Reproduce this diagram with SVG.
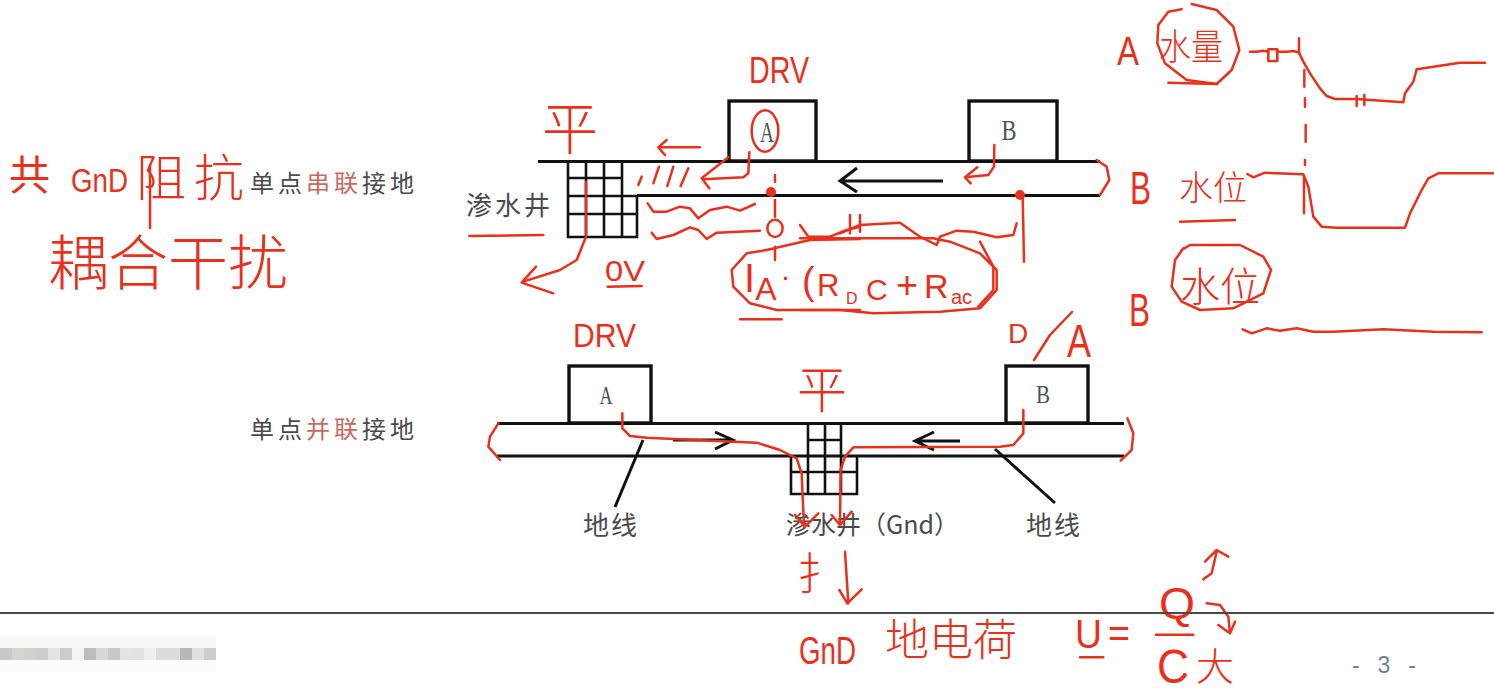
<svg xmlns="http://www.w3.org/2000/svg" width="1494" height="699" viewBox="0 0 1494 699">
<defs><style>
.k{fill:none;stroke:#111;stroke-width:3}
.box{fill:#fff;stroke:#111;stroke-width:3.4}
.g{fill:none;stroke:#111;stroke-width:2.6}
.r{fill:none;stroke:#e8301c;stroke-width:2.5;stroke-linejoin:round;stroke-linecap:round;vector-effect:non-scaling-stroke}
.t{font-family:"Noto Sans CJK SC","Liberation Sans",sans-serif;fill:#4a4a4a}
.s{font-family:"Liberation Serif",serif;fill:#48505c}
.h{font-family:"Noto Sans CJK SC","Liberation Sans",sans-serif;fill:#e8301c}
.l{font-family:"Liberation Sans",sans-serif;fill:#e8301c}
.m{stroke:none}
</style></defs>
<rect width="1494" height="699" fill="#fff"/>

<g id="serial-ground">
<path class="k" d="M538 161.500H1100M637 195.500H1100"/>
<path class="g" d="M568 161V237H637V196M586 161V237M604 161V237M622 161V237M568 178H622M568 196H637M568 214H637"/>
</g>
<g id="node-A-top"><rect class="box" x="729" y="101" width="87" height="60"/><text class="s" x="767" y="142" font-size="29" text-anchor="middle" textLength="14" lengthAdjust="spacingAndGlyphs">A</text></g>
<g id="node-B-top"><rect class="box" x="969" y="101" width="88" height="60"/><text class="s" x="1009" y="140" font-size="29" text-anchor="middle" textLength="15" lengthAdjust="spacingAndGlyphs">B</text></g>

<g id="parallel-ground">
<path class="k" d="M497 423.500H1124M497 456H1124"/>
<path class="g" d="M791 456V494H857V456M808 423V494M825 423V494M841 423V494M808 440H841M791 472H857"/>
</g>
<g id="node-A-bottom"><rect class="box" x="569" y="366" width="82" height="57"/><text class="s" x="606" y="404" font-size="25" text-anchor="middle" textLength="13" lengthAdjust="spacingAndGlyphs">A</text></g>
<g id="node-B-bottom"><rect class="box" x="1006" y="366" width="82" height="57"/><text class="s" x="1043" y="403" font-size="25" text-anchor="middle" textLength="14" lengthAdjust="spacingAndGlyphs">B</text></g>

<g id="connectors">
<path class="k" d="M943 181H840M857 168L840 181L857 192M673 440H733M715 432L733 440L715 449M960 441H915M934 432L915 441L934 450"/>
<path class="k" d="M643 440L615 507M995 449L1055 503"/>
</g>

<g id="labels">
<text class="t" x="250" y="192" font-size="24" letter-spacing="4">单点<tspan fill="#c9685f">串联</tspan>接地</text>
<text class="t" x="250" y="438" font-size="24" letter-spacing="4">单点<tspan fill="#c9685f">并联</tspan>接地</text>
<text class="t" x="466" y="215" font-size="26" letter-spacing="3">渗水井</text>
<text class="t" x="583" y="535" font-size="26" letter-spacing="2">地线</text>
<text class="t" x="1026" y="535" font-size="26" letter-spacing="2">地线</text>
<text class="t" x="786" y="534" font-size="25">渗水井（Gnd）</text>
<text x="1352" y="673" font-size="23" font-family="Liberation Sans,sans-serif" fill="#6f7f90" textLength="64" lengthAdjust="spacing" xml:space="preserve">- 3 -</text>
</g>

<g id="ink-marks">
<path class="r" d="M150 165V228"/>
<g transform="translate(460 40) scale(.33333)">
<ellipse class="r" cx="915" cy="273" rx="40" ry="62"/>
<path class="r" d="M720 322H595M620 300L595 322L615 345"/>
<path class="r" d="M545 410L535 435M597 380L580 430M640 380L622 438M685 385L662 438"/>
<path class="r" d="M868 337L865 400L850 412L730 418M805 352L725 415L748 445"/>
<path class="r" d="M945 405V425M945 480V530M945 620V660"/>
<ellipse class="r" cx="945" cy="565" rx="23" ry="26"/>
<path class="r" d="M563 490L580 515L620 515L660 500L690 505L715 535L750 510L800 500L840 512L885 492"/>
<path class="r" d="M575 578L590 597L640 585L690 562L715 570L740 597L770 578L900 572"/>
<path class="r" d="M1020 555L1045 590L1110 590L1160 570L1200 560"/>
<path class="r" d="M378 425V590L350 660L300 690L190 725M228 680L185 728L280 760"/>
<path class="r" d="M28 588L250 585M443 740L545 738M840 838H965"/>
<path class="r" d="M920 630L860 640L815 690L820 740L870 790L950 810L1200 810"/>
<path class="r" d="M920 630L1050 600L1200 597"/>
</g>
<g transform="translate(840 60) scale(.33333)">
<path class="r" d="M0 520L60 495L180 488L240 530L290 555L300 530L350 512L400 515L470 532L520 525L530 490"/>
<path class="r" d="M30 465V520M60 465V515"/>
<path class="r" d="M-120 535H280L330 545L420 580L470 630L470 690L420 745L300 755L100 760L0 750L-120 750"/>
<path class="r" d="M420 545L460 620L460 690L415 740"/>
<path class="r" d="M548 405L552 605M463 255L462 320L445 345L375 352M412 322L375 352L392 370"/>
<path class="r" d="M770 300L800 320L808 360L780 405"/>
</g>
<circle cx="771" cy="192" r="5" fill="#e8301c"/>
<circle cx="1020" cy="195" r="5" fill="#e8301c"/>
<g transform="translate(480 310) scale(.33333)">
<path class="r" d="M55 340L30 380L25 410L60 450"/>
<path class="r" d="M427 310V355L450 378L500 383L760 395L830 398L900 420L950 445L965 490L972 650M945 615L975 650L1015 610"/>
</g>
<g transform="translate(770 310) scale(.33333)">
<path class="r" d="M1072 325L1090 370L1085 420L1052 452"/>
<path class="r" d="M760 300V370L730 405L690 410L250 412L225 440L212 480L210 640M185 615L210 645L245 605"/>
<path class="r" d="M225 725L235 880M208 840L232 880L275 838"/>
</g>
<g transform="translate(1100 0) scale(.33333)">
<path class="r" d="M245 28L205 35L175 75L172 130L195 190L260 240L350 252L395 210L418 150L400 80L350 30L275 12"/>
<path class="r" d="M205 248L350 252M240 665L405 660"/>
<path class="r" d="M450 155L470 155L490 152L505 155M530 155L560 155L580 153L597 158L610 185L630 220L660 265L680 288L705 297L770 297L910 307L915 280L940 245L950 208L1080 188L1155 188"/>
<rect class="r" x="505" y="148" width="27" height="35"/>
<path class="r" d="M597 115V160M613 210V260M615 295V320M617 375V425M615 480V495M612 530V640M770 288V318M793 285V315"/>
<path class="r" d="M442 522L460 532L495 518L610 523L625 560L640 650L665 680L710 683L915 683L930 640L965 570L985 535L1015 520L1180 520"/>
<path class="r" d="M428 988L455 1000L500 985L540 992L590 985L640 995L700 995L850 988L1000 995L1145 997"/>
<path class="r" d="M245 750L270 735L420 735L490 770L513 810L490 880L400 925L300 930L245 905L215 860L225 780L250 745"/>
</g>
<g transform="translate(780 540) scale(.33333)">
<path class="r" d="M900 352H970M1128 284H1240"/>
<path class="r" d="M1270 118L1295 100L1310 35M1275 65L1310 30L1345 50"/>
<path class="r" d="M1280 190L1320 195L1345 230L1350 280M1315 255L1350 280L1365 245"/>
</g>
<path class="r" d="M1034 360L1050 335L1072 312"/>
</g>

<g id="ink-text">
<text class="h" x="9" y="190" font-size="41">共</text>
<text class="l" x="71" y="192" font-size="34" textLength="57" lengthAdjust="spacingAndGlyphs">GnD</text>
<text class="h" x="136" y="196" font-size="50" letter-spacing="8" font-weight="300">阻抗</text>
<text class="h" x="48" y="285" font-size="60" font-weight="300">耦合干扰</text>
<text class="h" x="570" y="149" font-size="56" text-anchor="middle" font-weight="300">平</text>
<text class="h" x="822" y="408" font-size="50" text-anchor="middle" font-weight="300">平</text>
<text class="l" x="749" y="83" font-size="36" textLength="60" lengthAdjust="spacingAndGlyphs">DRV</text>
<text class="l" x="573" y="347" font-size="34" textLength="63" lengthAdjust="spacingAndGlyphs">DRV</text>
<text class="l" x="1008" y="343" font-size="28">D</text>
<text class="l" x="1067" y="357" font-size="46" textLength="24" lengthAdjust="spacingAndGlyphs">A</text>
<text class="l" x="605" y="281" font-size="30" textLength="40" lengthAdjust="spacingAndGlyphs">0V</text>
<text class="l" x="744" y="292" font-size="40">I<tspan font-size="32" dy="8">A</tspan><tspan font-size="30" dy="-14" dx="4">·</tspan></text>
<text class="l" x="802" y="294" font-size="38">(</text>
<text class="l" x="817" y="296" font-size="31">R</text>
<text class="l" x="846" y="304" font-size="16">D</text>
<text class="l" x="866" y="300" font-size="30">C</text>
<text class="l" x="896" y="298" font-size="38">+</text>
<text class="l" x="924" y="298" font-size="34">R</text>
<text class="l" x="951" y="304" font-size="20">ac</text>
<text class="l" x="1117" y="65" font-size="40" textLength="22" lengthAdjust="spacingAndGlyphs">A</text>
<text class="l" x="1130" y="204" font-size="46" textLength="21" lengthAdjust="spacingAndGlyphs">B</text>
<text class="l" x="1129" y="326" font-size="46" textLength="21" lengthAdjust="spacingAndGlyphs">B</text>
<text class="h" x="1159" y="60" font-size="36" font-weight="300" textLength="64" lengthAdjust="spacingAndGlyphs">水量</text>
<text class="h" x="1179" y="200" font-size="34" font-weight="300">水位</text>
<text class="h" x="1180" y="301" font-size="40" font-weight="300">水位</text>
<text class="h" x="797" y="590" font-size="44" font-weight="300">扌</text>
<text class="l" x="799" y="664" font-size="38" textLength="57" lengthAdjust="spacingAndGlyphs">GnD</text>
<text class="h" x="885" y="656" font-size="44" font-weight="300">地电荷</text>
<text class="l" x="1075" y="648" font-size="40" textLength="27" lengthAdjust="spacingAndGlyphs">U</text>
<text class="l" x="1108" y="647" font-size="40" textLength="22" lengthAdjust="spacingAndGlyphs">=</text>
<text class="l" x="1159" y="619" font-size="44" textLength="36" lengthAdjust="spacingAndGlyphs">Q</text>
<text class="l" x="1157" y="683" font-size="48" textLength="32" lengthAdjust="spacingAndGlyphs">C</text>
<text class="h" x="1196" y="680" font-size="38" font-weight="300">大</text>
</g>

<g id="footer">
<path d="M0 613H1494" stroke="#4a4a4a" stroke-width="2" fill="none"/>
<g class="m">
<rect x="0" y="636" width="216" height="12" fill="#f8f8f7"/>
<rect x="0" y="660" width="216" height="12" fill="#fcfcfc"/>
<rect x="0" y="648" width="12" height="12" fill="#c8c8c8"/><rect x="12" y="648" width="12" height="12" fill="#d4d4d2"/>
<rect x="24" y="648" width="12" height="12" fill="#d0d0d0"/><rect x="36" y="648" width="12" height="12" fill="#cccccc"/>
<rect x="48" y="648" width="12" height="12" fill="#e4e4e4"/><rect x="60" y="648" width="12" height="12" fill="#cccccc"/>
<rect x="72" y="648" width="12" height="12" fill="#f4f4f4"/><rect x="84" y="648" width="12" height="12" fill="#bcbcbc"/>
<rect x="96" y="648" width="12" height="12" fill="#d8d8d8"/><rect x="108" y="648" width="12" height="12" fill="#c8c8c8"/>
<rect x="120" y="648" width="12" height="12" fill="#e4e4e2"/><rect x="132" y="648" width="12" height="12" fill="#e2e2e2"/>
<rect x="144" y="648" width="12" height="12" fill="#f0f0f0"/><rect x="156" y="648" width="12" height="12" fill="#dcdcdc"/>
<rect x="168" y="648" width="12" height="12" fill="#dcdcda"/><rect x="180" y="648" width="12" height="12" fill="#b8b8b8"/>
<rect x="192" y="648" width="12" height="12" fill="#e0e0e0"/><rect x="204" y="648" width="12" height="12" fill="#cccccc"/>
</g>
</g>
</svg>
